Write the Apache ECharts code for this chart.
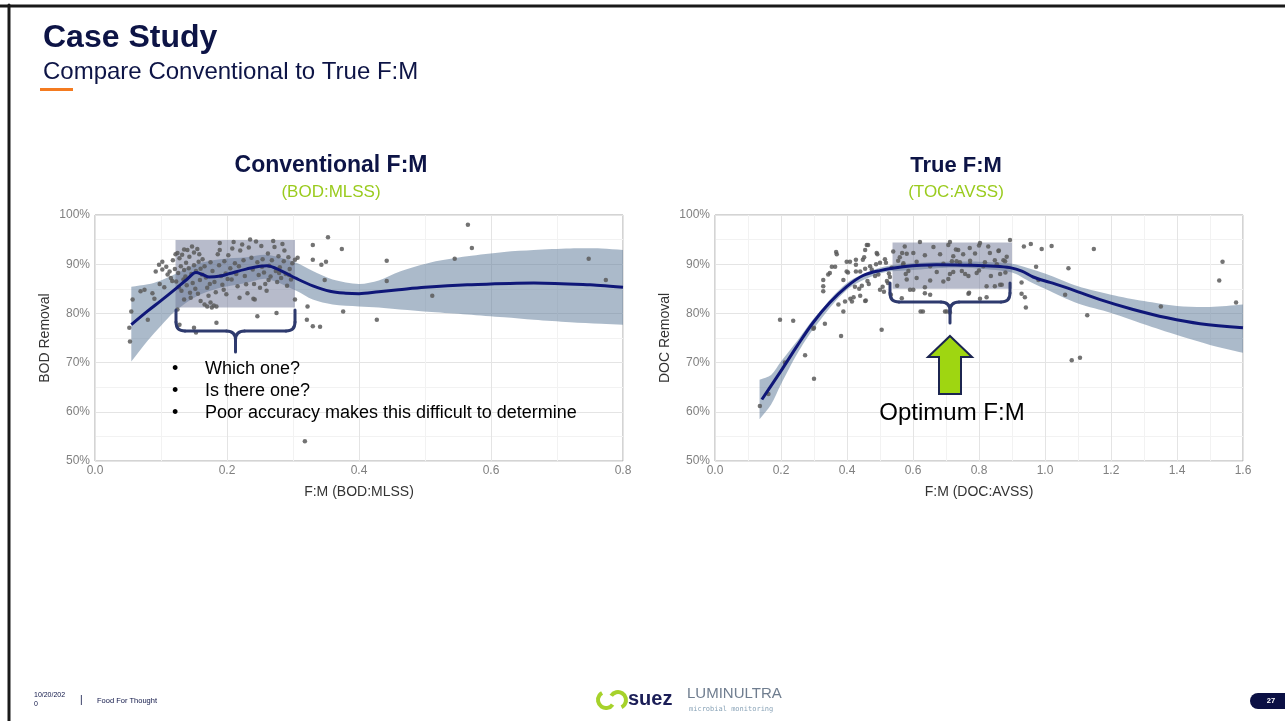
<!DOCTYPE html>
<html>
<head>
<meta charset="utf-8">
<script src="https://cdn.jsdelivr.net/npm/echarts@6/dist/echarts.min.js"></script>
<style>
html,body{margin:0;padding:0;background:#fff;}
#c{width:1285px;height:721px;}
</style>
</head>
<body>
<div id="c"></div>
<script>
// ---------------- DATA ----------------
const yTicks = [50, 60, 70, 80, 90, 100];
const leftXTicks = [0.0, 0.2, 0.4, 0.6, 0.8];
const rightXTicks = [0.0, 0.2, 0.4, 0.6, 0.8, 1.0, 1.2, 1.4, 1.6];

// Conventional F:M (BOD:MLSS) scatter [F:M, BOD removal %]
const leftPts = [
[0.052,77.1],[0.053,74.3],[0.055,80.4],[0.057,82.8],[0.069,84.5],[0.075,84.8],[0.080,78.7],[0.087,84.1],[0.092,88.5],[0.097,89.9],
[0.102,90.5],[0.102,88.9],[0.108,89.5],[0.113,88.5],[0.110,87.9],[0.115,87.2],[0.117,86.6],[0.098,86.0],[0.105,85.3],[0.090,83.0],
[0.122,92.0],[0.125,92.3],[0.128,91.2],[0.132,91.9],[0.135,93.0],[0.140,92.9],[0.143,91.5],[0.147,93.6],[0.150,92.4],[0.155,93.1],[0.158,92.0],
[0.121,89.0],[0.126,88.2],[0.130,89.6],[0.135,88.8],[0.138,90.3],[0.142,89.2],[0.146,88.0],[0.150,89.8],[0.153,88.6],[0.157,90.5],[0.160,89.1],
[0.123,86.5],[0.127,85.3],[0.131,84.6],[0.134,86.9],[0.139,85.7],[0.144,84.2],[0.148,86.2],[0.152,85.0],[0.156,84.0],[0.159,86.8],
[0.125,80.8],[0.128,77.7],[0.150,77.1],[0.153,76.1],[0.135,82.8],[0.145,83.2],[0.160,82.5],
[0.163,91.0],[0.166,89.6],[0.168,87.3],[0.170,85.2],[0.172,83.6],[0.166,81.8],[0.170,81.4],[0.175,82.2],[0.177,81.2],[0.180,81.6],[0.184,81.4],[0.184,78.1],
[0.175,90.4],[0.178,88.6],[0.181,86.4],[0.183,84.3],[0.186,92.0],[0.189,94.3],[0.189,92.9],[0.188,89.8],[0.191,87.6],[0.193,85.8],[0.196,90.6],[0.198,88.1],[0.199,83.9],[0.195,84.8],
[0.202,91.8],[0.205,89.2],[0.207,86.9],[0.208,93.2],[0.210,94.5],[0.212,90.2],[0.214,88.0],[0.216,85.5],[0.219,83.2],[0.220,92.8],[0.223,94.0],[0.225,90.8],[0.227,87.6],[0.229,85.9],
[0.231,84.1],[0.233,93.4],[0.235,95.0],[0.237,91.3],[0.239,88.9],[0.240,83.0],[0.241,86.0],[0.242,82.8],[0.244,94.6],[0.246,79.4],[0.246,90.4],[0.248,87.8],[0.250,85.2],
[0.252,93.7],[0.254,91.0],[0.256,88.3],[0.258,86.0],[0.260,84.6],[0.262,92.2],[0.264,89.7],[0.266,87.5],[0.268,90.8],[0.270,94.7],[0.272,93.5],[0.274,88.6],[0.275,80.1],
[0.276,86.4],[0.278,91.6],[0.280,89.4],[0.282,87.2],[0.284,94.1],[0.286,90.6],[0.287,92.8],[0.289,88.0],[0.291,85.6],[0.293,91.4],[0.295,89.0],[0.297,86.9],[0.299,90.2],
[0.303,82.8],[0.303,90.9],[0.307,91.3],[0.118,90.8],[0.137,87.5],[0.162,87.9],[0.174,86.0],[0.201,87.0],[0.218,89.6],[0.253,89.5],[0.263,86.8],[0.279,88.2],[0.294,87.8],
[0.318,54.0],[0.322,81.4],[0.321,78.7],[0.330,77.4],[0.341,77.3],[0.330,93.9],[0.330,90.9],[0.343,89.9],[0.350,90.5],[0.348,86.8],[0.353,95.5],[0.374,93.1],[0.376,80.4],
[0.427,78.7],[0.442,90.7],[0.442,86.6],[0.511,83.6],[0.545,91.1],[0.565,98.0],[0.571,93.3],[0.748,91.1],[0.774,86.8]
];
// Conventional fit (smoothed trend) and confidence band
const leftFitX = [0.055,0.08,0.10,0.123,0.14,0.153,0.163,0.173,0.19,0.204,0.229,0.26,0.283,0.305,0.33,0.356,0.38,0.40,0.43,0.46,0.50,0.564,0.665,0.75,0.80];
const leftFitY = [77.7,80.5,82.6,85.1,87.0,88.3,87.9,87.4,87.6,88.1,89.0,89.7,88.6,87.1,85.6,84.5,84.1,84.0,84.4,84.8,85.3,85.8,86.2,85.8,85.3];
const leftBandX = [0.055,0.08,0.10,0.12,0.153,0.19,0.23,0.26,0.305,0.33,0.36,0.40,0.43,0.462,0.51,0.564,0.62,0.665,0.72,0.767,0.80];
const leftBandUp = [85.4,85.9,86.7,87.9,90.0,91.0,91.4,91.9,90.3,88.6,86.9,86.0,86.7,88.5,90.4,91.6,92.5,92.9,93.2,93.2,92.9];
const leftBandLo = [70.2,74.5,77.5,80.3,83.4,85.2,86.2,87.0,84.6,82.8,81.8,81.4,81.2,80.8,80.3,79.8,79.2,78.7,78.2,77.9,77.7];
const leftHighlight = [0.122, 0.303, 81.2, 94.9]; // x0, x1, y0, y1

// True F:M (DOC:AVSS) scatter [F:M, DOC removal %]
const rightPts = [
[0.136,61.2],[0.162,63.6],[0.197,78.7],[0.212,70.0],[0.237,78.5],[0.273,71.5],[0.300,66.7],[0.300,77.1],[0.298,76.9],[0.333,77.9],
[0.328,86.8],[0.328,85.5],[0.328,84.5],[0.343,87.9],[0.348,88.2],[0.367,92.5],[0.369,92.0],[0.364,89.5],[0.354,89.5],[0.374,81.8],[0.382,75.4],[0.389,80.4],
[0.389,86.8],[0.394,82.4],[0.399,90.5],[0.399,88.5],[0.403,88.3],[0.409,90.5],[0.410,83.0],[0.415,82.4],[0.420,83.3],[0.424,85.4],[0.427,90.9],[0.427,89.9],
[0.427,88.5],[0.437,85.0],[0.440,88.5],[0.440,83.6],[0.445,85.6],[0.448,90.9],[0.452,91.4],[0.455,92.9],[0.455,89.1],[0.455,82.5],[0.457,82.6],[0.460,93.9],
[0.462,86.6],[0.464,93.9],[0.466,86.0],[0.470,89.6],[0.475,88.9],[0.485,87.6],[0.488,90.0],[0.490,92.3],[0.492,92.0],[0.495,87.9],[0.500,90.3],[0.500,84.8],
[0.505,76.7],[0.508,85.4],[0.512,84.4],[0.515,91.0],[0.518,90.3],[0.521,86.6],[0.524,86.2],[0.527,88.1],[0.530,87.4],[0.533,83.8],[0.535,89.3],[0.540,92.6],
[0.552,85.6],[0.555,90.7],[0.560,91.4],[0.566,83.1],[0.567,92.3],[0.570,89.9],[0.575,93.6],[0.578,88.0],
[0.581,92.1],[0.586,88.6],[0.571,90.2],[0.601,92.3],[0.611,90.5],[0.621,94.5],[0.636,91.8],[0.652,89.6],[0.662,93.5],[0.672,88.4],[0.682,92.0],[0.692,90.1],
[0.707,93.9],[0.712,88.0],[0.722,91.6],[0.732,90.6],[0.737,92.9],[0.748,88.6],[0.752,92.0],[0.773,90.7],[0.788,92.2],[0.793,88.2],[0.803,94.3],[0.813,89.6],
[0.833,92.3],[0.854,90.0],[0.859,92.7],[0.864,88.0],[0.874,90.8],[0.884,91.5],[0.581,86.9],[0.611,87.2],[0.636,85.3],[0.652,86.7],[0.692,86.5],[0.707,87.0],
[0.768,87.6],[0.823,85.5],[0.869,85.8],[0.591,84.8],[0.601,84.8],[0.636,84.1],[0.652,83.8],[0.768,84.0],[0.803,83.0],[0.623,80.4],[0.697,80.4],
[0.630,80.4],[0.702,80.4],[0.712,94.5],[0.730,93.0],[0.772,93.3],[0.800,93.8],[0.828,93.6],[0.860,92.8],[0.894,94.9],[0.718,90.6],[0.742,90.4],[0.773,90.0],
[0.818,90.4],[0.848,90.8],[0.879,90.6],[0.722,88.4],[0.758,88.0],[0.800,88.7],[0.836,87.6],[0.880,88.3],[0.848,85.5],[0.864,85.8],[0.770,84.2],[0.823,83.3],
[0.712,80.2],[0.929,86.3],[0.929,84.0],[0.939,83.3],[0.942,81.2],[0.936,93.6],[0.957,94.1],[0.990,93.1],[1.020,93.7],[0.973,89.5],[0.980,86.8],[1.071,89.2],
[1.061,83.8],[1.128,79.6],[1.148,93.1],[1.081,70.5],[1.106,71.0],[1.351,81.4],[1.528,86.7],[1.538,90.5],[1.579,82.2]
];
// True F:M fit and confidence band
const rightFitX = [0.142,0.197,0.248,0.297,0.348,0.40,0.449,0.50,0.57,0.672,0.76,0.85,0.894,0.93,0.964,1.015,1.067,1.167,1.267,1.37,1.47,1.60];
const rightFitY = [62.5,68.0,73.3,78.1,82.2,85.5,87.7,88.7,89.5,89.9,89.8,89.6,89.3,88.6,87.4,86.3,85.2,82.8,80.8,79.1,77.9,77.1];
const rightBandX = [0.135,0.17,0.20,0.25,0.30,0.40,0.50,0.60,0.70,0.80,0.90,0.95,1.00,1.10,1.20,1.30,1.40,1.50,1.60];
const rightBandUp = [66.5,67.5,70.2,74.5,79.0,86.2,89.3,90.2,90.5,90.5,90.1,89.2,88.1,85.5,83.8,82.5,81.5,81.3,81.8];
const rightBandLo = [58.5,61.5,65.6,71.9,77.0,84.8,88.1,88.8,89.3,89.1,88.3,86.6,85.0,82.0,80.1,77.8,75.6,73.6,72.0];
const rightHighlight = [0.538, 0.90, 85.0, 94.4];

// ---------------- CHART ----------------
const FONT = '"Liberation Sans", Arial, sans-serif';
const chart = echarts.init(document.getElementById('c'), null, {renderer: 'canvas'});

function zip(xs, ys) { return xs.map((x, i) => [x, ys[i]]); }

// confidence band: polygon through upper edge then lower edge (corners doubled so the ends stay straight)
function bandSeries(idx, xs, up, lo) {
  return {
    type: 'custom', xAxisIndex: idx, yAxisIndex: idx, z: 1, silent: true,
    data: [[xs[0], up[0]]],
    renderItem: function (params, api) {
      const pts = [];
      const n = xs.length;
      for (let i = 0; i < n; i++) {
        const p = api.coord([xs[i], up[i]]);
        pts.push(p);
        if (i === 0 || i === n - 1) pts.push(p.slice());
      }
      for (let i = n - 1; i >= 0; i--) {
        const p = api.coord([xs[i], lo[i]]);
        pts.push(p);
        if (i === 0 || i === n - 1) pts.push(p.slice());
      }
      return {type: 'polygon', shape: {points: pts, smooth: 0.3}, style: {fill: 'rgba(88,118,150,0.5)'}};
    }
  };
}
function rectSeries(idx, r) {
  return {
    type: 'custom', xAxisIndex: idx, yAxisIndex: idx, z: 2, silent: true,
    data: [r],
    renderItem: function (params, api) {
      const p0 = api.coord([api.value(0), api.value(3)]);
      const p1 = api.coord([api.value(1), api.value(2)]);
      return {type: 'rect', shape: {x: p0[0], y: p0[1], width: p1[0] - p0[0], height: p1[1] - p0[1]},
              style: {fill: 'rgba(112,120,152,0.5)'}};
    }
  };
}
function scatterSeries(idx, pts) {
  return {type: 'scatter', xAxisIndex: idx, yAxisIndex: idx, z: 3, data: pts, symbolSize: 4.5,
          itemStyle: {color: '#5b5b5b', opacity: 0.85}, silent: true};
}
function lineSeries(idx, xs, ys) {
  return {type: 'line', xAxisIndex: idx, yAxisIndex: idx, z: 4, data: zip(xs, ys), smooth: 0.35,
          showSymbol: false, symbol: 'none', lineStyle: {color: '#0f1778', width: 3}, silent: true};
}
function xAxis(idx, max, name) {
  return {
    type: 'value', gridIndex: idx, min: 0, max: max, interval: 0.2,
    name: name, nameLocation: 'middle', nameGap: 24,
    nameTextStyle: {fontFamily: FONT, fontSize: 14, color: '#333'},
    axisLine: {show: false}, axisTick: {show: false},
    axisLabel: {show: true, margin: 4, color: '#808080', fontSize: 12, fontFamily: FONT,
                showMinLabel: true, showMaxLabel: true, formatter: v => v.toFixed(1)},
    splitLine: {show: true, lineStyle: {color: '#e4e4e4', width: 1}},
    minorTick: {show: false, splitNumber: 2},
    minorSplitLine: {show: true, lineStyle: {color: '#f2f2f2', width: 1}}
  };
}
function yAxis(idx, name) {
  return {
    type: 'value', gridIndex: idx, min: 50, max: 100, interval: 10,
    name: name, nameLocation: 'middle', nameGap: 43, nameRotate: 90,
    nameTextStyle: {fontFamily: FONT, fontSize: 14, color: '#333'},
    axisLine: {show: false}, axisTick: {show: false},
    axisLabel: {show: true, margin: 5, color: '#808080', fontSize: 12, fontFamily: FONT,
                formatter: v => v + '%'},
    splitLine: {show: true, lineStyle: {color: '#e4e4e4', width: 1}},
    minorTick: {show: false, splitNumber: 2},
    minorSplitLine: {show: true, lineStyle: {color: '#f2f2f2', width: 1}}
  };
}

const navy = '#0d1446';
const green = '#9acb1e';
function txt(x, y, text, size, color, opts) {
  return {type: 'text', x: x, y: y, z: 100, silent: true,
    style: Object.assign({text: text, fill: color, font: size + 'px ' + FONT,
                          textAlign: 'left', textVerticalAlign: 'middle'}, opts || {})};
}
function seg(x1, y1, x2, y2, color, w) {
  return {type: 'line', z: 100, silent: true, shape: {x1: x1, y1: y1, x2: x2, y2: y2},
          style: {stroke: color, lineWidth: w, lineCap: 'round'}};
}
function curve(x1, y1, cx, cy, x2, y2, color, w) {
  return {type: 'bezierCurve', z: 100, silent: true,
          shape: {x1: x1, y1: y1, x2: x2, y2: y2, cpx1: cx, cpy1: cy},
          style: {stroke: color, lineWidth: w, fill: null, lineCap: 'round'}};
}
// curly brace: x0..x1, top y (arm ends), horizontal y, tip y
function brace(x0, x1, yTop, yMid, yTip) {
  const c = '#2e3a6e', w = 3, xm = (x0 + x1) / 2, r = 9;
  return [
    seg(x0, yTop, x0, yMid - r, c, w),
    curve(x0, yMid - r, x0, yMid, x0 + r, yMid, c, w),
    seg(x0 + r, yMid, xm - r, yMid, c, w),
    curve(xm - r, yMid, xm, yMid, xm, yMid + r, c, w),
    seg(xm, yMid + r, xm, yTip, c, w),
    curve(xm + r, yMid, xm, yMid, xm, yMid + r, c, w),
    seg(xm + r, yMid, x1 - r, yMid, c, w),
    curve(x1 - r, yMid, x1, yMid, x1, yMid - r, c, w),
    seg(x1, yMid - r, x1, yTop, c, w)
  ];
}

const graphics = [
  // frame
  seg(0, 6, 1285, 6, '#1a1a1a', 3),
  seg(9, 5, 9, 721, '#1a1a1a', 3),
  // heading
  txt(43, 38, 'Case Study', 32, navy, {font: 'bold 32px ' + FONT}),
  txt(43, 72, 'Compare Conventional to True F:M', 24, navy),
  {type: 'rect', shape: {x: 40, y: 88, width: 33, height: 3}, style: {fill: '#f47b20'}, z: 100, silent: true},
  // chart titles
  txt(331, 166, 'Conventional F:M', 23, navy, {font: 'bold 23px ' + FONT, textAlign: 'center'}),
  txt(331, 192, '(BOD:MLSS)', 17, green, {textAlign: 'center'}),
  txt(956, 166, 'True F:M', 22, navy, {font: 'bold 22px ' + FONT, textAlign: 'center'}),
  txt(956, 192, '(TOC:AVSS)', 17, green, {textAlign: 'center'}),
  // braces
  ...brace(176, 295, 310, 331, 352),
  ...brace(890, 1010, 283, 302, 323),
  // green arrow
  {type: 'polygon', z: 100, silent: true,
   shape: {points: [[950, 336], [972, 357], [961, 357], [961, 394], [939, 394], [939, 357], [928, 357]]},
   style: {fill: '#9fd611', stroke: '#1c2550', lineWidth: 2}},
  txt(952, 413, 'Optimum F:M', 24, '#000', {textAlign: 'center'}),
  // bullets
  txt(172, 369, '•', 18, '#000'), txt(205, 369, 'Which one?', 18, '#000'),
  txt(172, 391, '•', 18, '#000'), txt(205, 391, 'Is there one?', 18, '#000'),
  txt(172, 413, '•', 18, '#000'), txt(205, 413, 'Poor accuracy makes this difficult to determine', 18, '#000'),
  // footer
  txt(34, 695, '10/20/202', 7, navy), txt(34, 704, '0', 7, navy),
  txt(80, 700, '|', 10, navy),
  txt(97, 701, 'Food For Thought', 7.5, navy),
  // logo
  {type: 'arc', z: 100, silent: true, shape: {cx: 606, cy: 700, r: 8, startAngle: 0.6, endAngle: 4.2}, style: {stroke: '#a6d22b', lineWidth: 4, fill: null}},
  {type: 'arc', z: 100, silent: true, shape: {cx: 618, cy: 700, r: 8, startAngle: 3.7, endAngle: 7.4}, style: {stroke: '#a6d22b', lineWidth: 4, fill: null}},
  txt(628, 699, 'suez', 20, '#1b1e57', {font: 'bold 20px ' + FONT}),
  txt(687, 694, 'LUMINULTRA', 15, '#6f7d8f'),
  txt(689, 709, 'microbial monitoring', 7, '#8aa4b8', {font: '7px "DejaVu Sans Mono", monospace'}),
  // page number
  {type: 'rect', z: 100, silent: true, shape: {x: 1250, y: 693, width: 40, height: 16, r: [8, 0, 0, 8]}, style: {fill: '#0b1044'}},
  txt(1271, 701, '27', 7.5, '#fff', {font: 'bold 7.5px ' + FONT, textAlign: 'center'})
];

const option = {
  animation: false,
  backgroundColor: '#ffffff',
  grid: [
    {left: 95, top: 215, width: 528, height: 246, show: true, borderColor: '#a8a8a8', borderWidth: 1, backgroundColor: 'transparent'},
    {left: 715, top: 215, width: 528, height: 246, show: true, borderColor: '#a8a8a8', borderWidth: 1, backgroundColor: 'transparent'}
  ],
  xAxis: [xAxis(0, 0.8, 'F:M (BOD:MLSS)'), xAxis(1, 1.6, 'F:M (DOC:AVSS)')],
  yAxis: [yAxis(0, 'BOD Removal'), yAxis(1, 'DOC Removal')],
  series: [
    bandSeries(0, leftBandX, leftBandUp, leftBandLo),
    rectSeries(0, leftHighlight),
    scatterSeries(0, leftPts),
    lineSeries(0, leftFitX, leftFitY),
    bandSeries(1, rightBandX, rightBandUp, rightBandLo),
    rectSeries(1, rightHighlight),
    scatterSeries(1, rightPts),
    lineSeries(1, rightFitX, rightFitY)
  ],
  graphic: graphics
};
chart.setOption(option);
</script>
</body>
</html>
